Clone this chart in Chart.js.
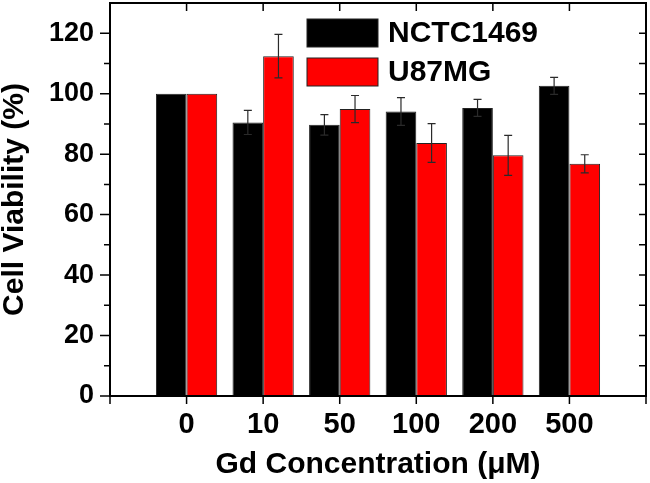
<!DOCTYPE html>
<html>
<head>
<meta charset="utf-8">
<script src="https://cdn.jsdelivr.net/npm/chart.js@4/dist/chart.umd.min.js"></script>
<style>
  html, body { margin: 0; padding: 0; background: #fff; }
  #wrap { width: 650px; height: 483px; }
</style>
</head>
<body>
<div id="wrap"><canvas id="myChart" width="650" height="483"></canvas></div>
<script>
// Gd concentration (uM)
const categories = ['0', '10', '50', '100', '200', '500'];
// cell viability (%)
const nctc1469 = [100, 90.5, 89.7, 94.1, 95.3, 102.6];
const u87mg = [100, 112.4, 94.9, 83.7, 79.6, 76.8];
const nctcErr = [0, 4.0, 3.4, 4.6, 2.8, 2.8];
const u87Err = [0, 7.2, 4.5, 6.4, 6.6, 3.0];
const yTicks = [0, 20, 40, 60, 80, 100, 120];

// empty slot at each end so the bars sit one step in from the frame
const labels = [''].concat(categories, ['']);
const pad = arr => [null].concat(arr, [null]);
const errs = [pad(nctcErr), pad(u87Err)];

const FONT = "'Liberation Sans', Arial, sans-serif";

const errorBars = {
    id: 'errorBars',
    afterDatasetsDraw(chart) {
        const ctx = chart.ctx;
        const y = chart.scales.y;
        ctx.save();
        ctx.strokeStyle = '#2a2a2a';
        ctx.lineWidth = 1.2;
        chart.data.datasets.forEach((ds, i) => {
            const meta = chart.getDatasetMeta(i);
            meta.data.forEach((bar, j) => {
                const v = ds.data[j];
                const e = errs[i][j];
                if (v == null || !e) return;
                const top = y.getPixelForValue(v + e);
                const bot = y.getPixelForValue(v - e);
                ctx.beginPath();
                ctx.moveTo(bar.x, top); ctx.lineTo(bar.x, bot);
                ctx.moveTo(bar.x - 4, top); ctx.lineTo(bar.x + 4, top);
                ctx.moveTo(bar.x - 4, bot); ctx.lineTo(bar.x + 4, bot);
                ctx.stroke();
            });
        });
        ctx.restore();
    }
};

// box frame, tick marks on all four sides, legend inside the plot
const frame = {
    id: 'frame',
    afterDraw(chart) {
        const ctx = chart.ctx;
        const a = chart.chartArea;
        const x = chart.scales.x, y = chart.scales.y;
        ctx.save();
        ctx.strokeStyle = '#000';
        ctx.lineWidth = 2;
        ctx.strokeRect(a.left, a.top, a.right - a.left, a.bottom - a.top);
        ctx.lineWidth = 1.5;
        ctx.beginPath();
        for (let v = 0; v <= 120; v += 10) {
            const py = y.getPixelForValue(v);
            const len = v % 20 ? 6 : 10;
            ctx.moveTo(a.left - len, py); ctx.lineTo(a.left, py);
            ctx.moveTo(a.right - 7, py); ctx.lineTo(a.right, py);
        }
        for (let i = 0; i < labels.length; i++) {
            const px = x.getPixelForValue(i);
            ctx.moveTo(px, a.top); ctx.lineTo(px, a.top + 8);
            ctx.moveTo(px, a.bottom); ctx.lineTo(px, a.bottom + 8);
        }
        ctx.stroke();

        ctx.font = 'bold 30px ' + FONT;
        ctx.textBaseline = 'middle';
        ctx.textAlign = 'left';
        ctx.lineWidth = 1;
        chart.data.datasets.forEach((ds, i) => {
            const bx = a.left + 197, by = a.top + 16 + i * 39;
            ctx.fillStyle = ds.backgroundColor;
            ctx.fillRect(bx, by, 71, 28);
            ctx.strokeStyle = '#222';
            ctx.strokeRect(bx, by, 71, 28);
            ctx.fillStyle = '#000';
            ctx.fillText(ds.label, bx + 81, by + 15);
        });
        ctx.restore();
    }
};

new Chart(document.getElementById('myChart'), {
    type: 'bar',
    data: {
        labels: labels,
        datasets: [
            { label: 'NCTC1469', data: pad(nctc1469), backgroundColor: '#000000', borderColor: '#222', borderWidth: 1 },
            { label: 'U87MG', data: pad(u87mg), backgroundColor: '#ff0000', borderColor: '#222', borderWidth: 1 }
        ]
    },
    options: {
        responsive: false,
        animation: false,
        layout: { padding: { top: 3, right: 4, left: 0, bottom: 0 } },
        categoryPercentage: 0.8,
        barPercentage: 1.0,
        plugins: { legend: { display: false }, tooltip: { enabled: false } },
        scales: {
            x: {
                offset: false,
                grid: { display: false, offset: false, tickLength: 8 },
                border: { display: false },
                ticks: { color: '#000', padding: 4, maxRotation: 0, autoSkip: false, font: { family: FONT, size: 29, weight: 'bold' } },
                title: { display: true, text: 'Gd Concentration (μM)', color: '#000', padding: { top: 0, bottom: 3 }, font: { family: FONT, size: 30, weight: 'bold', lineHeight: 1 } },
                afterFit: s => { s.height = 87; s.paddingLeft = 0; s.paddingRight = 0; }
            },
            y: {
                min: 0,
                max: 130,
                afterBuildTicks: s => { s.ticks = yTicks.map(v => ({ value: v })); },
                grid: { display: false, tickLength: 10 },
                border: { display: false },
                ticks: { color: '#000', padding: 6, font: { family: FONT, size: 27, weight: 'bold' } },
                title: { display: true, text: 'Cell Viability (%)', color: '#000', padding: { top: 0, bottom: 0 }, font: { family: FONT, size: 30, weight: 'bold', lineHeight: 1 } },
                afterFit: s => { s.width = 110; s.paddingTop = 0; s.paddingBottom = 0; }
            }
        }
    },
    plugins: [errorBars, frame]
});
</script>
</body>
</html>
